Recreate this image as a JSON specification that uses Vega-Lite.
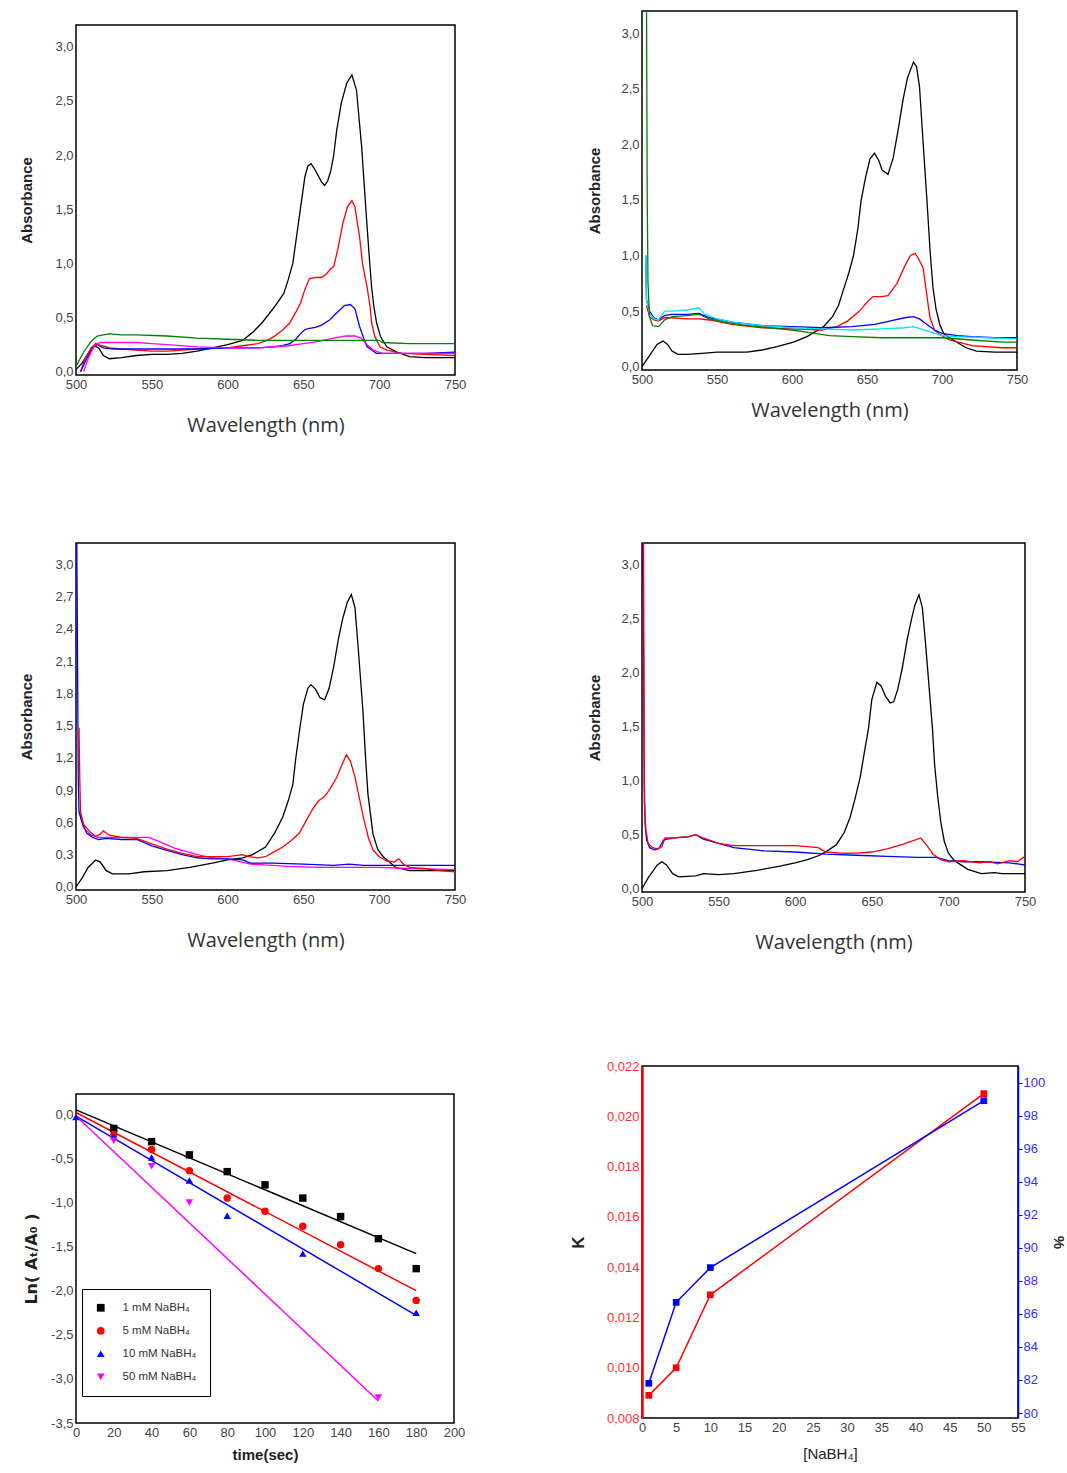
{
"$schema": "https://vega.github.io/schema/vega-lite/v6.json",
"background": "white",
"padding": {"left": 19, "top": 10, "right": 5, "bottom": 5},
"config": {
  "view": {"stroke": "black", "strokeWidth": 1.5},
  "axis": {"grid": false, "ticks": false, "domain": false, "tickCount": 40, "labelOverlap": false, "labelFlush": false, "labelFont": "Liberation Sans", "labelFontSize": 13, "labelColor": "#444", "labelPadding": 3, "titleFont": "Liberation Sans", "titleColor": "#222"},
  "text": {"font": "Liberation Sans"}
},
"datasets": {
  "a": [
{"s":"s0","w":500,"A":0.02},{"s":"s0","w":504,"A":0.08},{"s":"s0","w":508,"A":0.17},{"s":"s0","w":512,"A":0.24},{"s":"s0","w":515,"A":0.22},{"s":"s0","w":518,"A":0.15},{"s":"s0","w":522,"A":0.12},{"s":"s0","w":530,"A":0.13},{"s":"s0","w":540,"A":0.15},{"s":"s0","w":550,"A":0.16},{"s":"s0","w":560,"A":0.16},{"s":"s0","w":570,"A":0.17},{"s":"s0","w":580,"A":0.19},{"s":"s0","w":590,"A":0.22},{"s":"s0","w":600,"A":0.25},{"s":"s0","w":610,"A":0.29},{"s":"s0","w":617,"A":0.37},{"s":"s0","w":622,"A":0.44},{"s":"s0","w":626,"A":0.51},{"s":"s0","w":631,"A":0.6},{"s":"s0","w":637,"A":0.72},{"s":"s0","w":640,"A":0.85},{"s":"s0","w":643,"A":1.0},{"s":"s0","w":645.5,"A":1.25},{"s":"s0","w":648,"A":1.5},{"s":"s0","w":651,"A":1.8},{"s":"s0","w":653,"A":1.9},{"s":"s0","w":655,"A":1.92},{"s":"s0","w":657,"A":1.88},{"s":"s0","w":659,"A":1.83},{"s":"s0","w":662,"A":1.75},{"s":"s0","w":664,"A":1.72},{"s":"s0","w":666,"A":1.76},{"s":"s0","w":668,"A":1.85},{"s":"s0","w":670,"A":2.0},{"s":"s0","w":672,"A":2.23},{"s":"s0","w":675,"A":2.48},{"s":"s0","w":678.5,"A":2.66},{"s":"s0","w":682,"A":2.74},{"s":"s0","w":685,"A":2.6},{"s":"s0","w":688.4,"A":2.08},{"s":"s0","w":690,"A":1.75},{"s":"s0","w":691.7,"A":1.4},{"s":"s0","w":693.5,"A":1.05},{"s":"s0","w":695,"A":0.78},{"s":"s0","w":696.5,"A":0.6},{"s":"s0","w":698.3,"A":0.45},{"s":"s0","w":701,"A":0.32},{"s":"s0","w":705,"A":0.23},{"s":"s0","w":712,"A":0.18},{"s":"s0","w":720,"A":0.14},{"s":"s0","w":730,"A":0.13},{"s":"s0","w":750,"A":0.13},
{"s":"s1","w":503,"A":0.0},{"s":"s1","w":506,"A":0.12},{"s":"s1","w":510,"A":0.22},{"s":"s1","w":513,"A":0.26},{"s":"s1","w":517,"A":0.24},{"s":"s1","w":522,"A":0.22},{"s":"s1","w":530,"A":0.21},{"s":"s1","w":540,"A":0.2},{"s":"s1","w":550,"A":0.19},{"s":"s1","w":560,"A":0.19},{"s":"s1","w":570,"A":0.2},{"s":"s1","w":580,"A":0.21},{"s":"s1","w":590,"A":0.22},{"s":"s1","w":600,"A":0.22},{"s":"s1","w":610,"A":0.24},{"s":"s1","w":620,"A":0.26},{"s":"s1","w":626,"A":0.29},{"s":"s1","w":630,"A":0.32},{"s":"s1","w":636,"A":0.38},{"s":"s1","w":641,"A":0.45},{"s":"s1","w":645,"A":0.55},{"s":"s1","w":648,"A":0.63},{"s":"s1","w":651,"A":0.76},{"s":"s1","w":654,"A":0.86},{"s":"s1","w":658,"A":0.87},{"s":"s1","w":662,"A":0.87},{"s":"s1","w":665,"A":0.9},{"s":"s1","w":668,"A":0.95},{"s":"s1","w":670,"A":0.97},{"s":"s1","w":673,"A":1.15},{"s":"s1","w":676,"A":1.37},{"s":"s1","w":679,"A":1.52},{"s":"s1","w":682,"A":1.58},{"s":"s1","w":684,"A":1.52},{"s":"s1","w":687,"A":1.25},{"s":"s1","w":689,"A":1.0},{"s":"s1","w":692,"A":0.78},{"s":"s1","w":694,"A":0.6},{"s":"s1","w":695,"A":0.45},{"s":"s1","w":697,"A":0.33},{"s":"s1","w":700.5,"A":0.23},{"s":"s1","w":705,"A":0.2},{"s":"s1","w":715,"A":0.17},{"s":"s1","w":730,"A":0.16},{"s":"s1","w":750,"A":0.15},
{"s":"s2","w":503,"A":0.0},{"s":"s2","w":507,"A":0.12},{"s":"s2","w":511,"A":0.22},{"s":"s2","w":514,"A":0.25},{"s":"s2","w":518,"A":0.22},{"s":"s2","w":525,"A":0.21},{"s":"s2","w":540,"A":0.21},{"s":"s2","w":560,"A":0.21},{"s":"s2","w":580,"A":0.21},{"s":"s2","w":600,"A":0.22},{"s":"s2","w":620,"A":0.22},{"s":"s2","w":630,"A":0.23},{"s":"s2","w":636,"A":0.24},{"s":"s2","w":641,"A":0.26},{"s":"s2","w":645,"A":0.3},{"s":"s2","w":648,"A":0.35},{"s":"s2","w":651,"A":0.39},{"s":"s2","w":654,"A":0.4},{"s":"s2","w":658,"A":0.41},{"s":"s2","w":662,"A":0.43},{"s":"s2","w":667.5,"A":0.48},{"s":"s2","w":671,"A":0.53},{"s":"s2","w":674,"A":0.57},{"s":"s2","w":677,"A":0.61},{"s":"s2","w":681,"A":0.62},{"s":"s2","w":684,"A":0.58},{"s":"s2","w":687,"A":0.42},{"s":"s2","w":690,"A":0.3},{"s":"s2","w":692,"A":0.23},{"s":"s2","w":695,"A":0.2},{"s":"s2","w":698,"A":0.17},{"s":"s2","w":710,"A":0.17},{"s":"s2","w":730,"A":0.17},{"s":"s2","w":750,"A":0.18},
{"s":"s3","w":505,"A":0.0},{"s":"s3","w":508,"A":0.12},{"s":"s3","w":512,"A":0.24},{"s":"s3","w":516,"A":0.27},{"s":"s3","w":520,"A":0.27},{"s":"s3","w":530,"A":0.27},{"s":"s3","w":540,"A":0.27},{"s":"s3","w":550,"A":0.26},{"s":"s3","w":560,"A":0.25},{"s":"s3","w":580,"A":0.23},{"s":"s3","w":600,"A":0.22},{"s":"s3","w":620,"A":0.22},{"s":"s3","w":640,"A":0.24},{"s":"s3","w":650,"A":0.26},{"s":"s3","w":660,"A":0.28},{"s":"s3","w":670,"A":0.31},{"s":"s3","w":678,"A":0.33},{"s":"s3","w":684,"A":0.33},{"s":"s3","w":688,"A":0.31},{"s":"s3","w":692,"A":0.25},{"s":"s3","w":696,"A":0.2},{"s":"s3","w":702,"A":0.17},{"s":"s3","w":720,"A":0.17},{"s":"s3","w":750,"A":0.17},
{"s":"s4","w":500,"A":0.05},{"s":"s4","w":505,"A":0.18},{"s":"s4","w":510,"A":0.28},{"s":"s4","w":514,"A":0.33},{"s":"s4","w":518,"A":0.34},{"s":"s4","w":522,"A":0.35},{"s":"s4","w":530,"A":0.34},{"s":"s4","w":540,"A":0.34},{"s":"s4","w":560,"A":0.33},{"s":"s4","w":580,"A":0.31},{"s":"s4","w":600,"A":0.3},{"s":"s4","w":620,"A":0.29},{"s":"s4","w":640,"A":0.29},{"s":"s4","w":660,"A":0.29},{"s":"s4","w":680,"A":0.29},{"s":"s4","w":700,"A":0.29},{"s":"s4","w":702,"A":0.27},{"s":"s4","w":720,"A":0.26},{"s":"s4","w":750,"A":0.26}
  ],
  "b": [
{"s":"s0","w":500,"A":0.0},{"s":"s0","w":505,"A":0.1},{"s":"s0","w":510,"A":0.2},{"s":"s0","w":514,"A":0.23},{"s":"s0","w":517,"A":0.2},{"s":"s0","w":520,"A":0.14},{"s":"s0","w":524,"A":0.11},{"s":"s0","w":530,"A":0.11},{"s":"s0","w":540,"A":0.12},{"s":"s0","w":550,"A":0.13},{"s":"s0","w":560,"A":0.13},{"s":"s0","w":570,"A":0.13},{"s":"s0","w":580,"A":0.15},{"s":"s0","w":590,"A":0.18},{"s":"s0","w":601,"A":0.22},{"s":"s0","w":610,"A":0.27},{"s":"s0","w":621,"A":0.36},{"s":"s0","w":627,"A":0.45},{"s":"s0","w":631,"A":0.55},{"s":"s0","w":634,"A":0.68},{"s":"s0","w":638,"A":0.85},{"s":"s0","w":641,"A":1.0},{"s":"s0","w":644,"A":1.25},{"s":"s0","w":646,"A":1.49},{"s":"s0","w":649,"A":1.7},{"s":"s0","w":652,"A":1.87},{"s":"s0","w":655,"A":1.92},{"s":"s0","w":658,"A":1.85},{"s":"s0","w":660,"A":1.77},{"s":"s0","w":664,"A":1.73},{"s":"s0","w":667.5,"A":1.88},{"s":"s0","w":671,"A":2.15},{"s":"s0","w":674,"A":2.4},{"s":"s0","w":677,"A":2.6},{"s":"s0","w":681,"A":2.74},{"s":"s0","w":683,"A":2.7},{"s":"s0","w":685,"A":2.52},{"s":"s0","w":687,"A":2.1},{"s":"s0","w":690,"A":1.49},{"s":"s0","w":692,"A":1.05},{"s":"s0","w":694,"A":0.71},{"s":"s0","w":696,"A":0.52},{"s":"s0","w":698.5,"A":0.38},{"s":"s0","w":701,"A":0.3},{"s":"s0","w":705,"A":0.26},{"s":"s0","w":710,"A":0.22},{"s":"s0","w":716,"A":0.17},{"s":"s0","w":723,"A":0.14},{"s":"s0","w":735,"A":0.13},{"s":"s0","w":750,"A":0.13},
{"s":"s1","w":503,"A":0.55},{"s":"s1","w":505,"A":0.45},{"s":"s1","w":508,"A":0.42},{"s":"s1","w":511,"A":0.41},{"s":"s1","w":515,"A":0.44},{"s":"s1","w":520,"A":0.44},{"s":"s1","w":530,"A":0.43},{"s":"s1","w":538,"A":0.43},{"s":"s1","w":545,"A":0.42},{"s":"s1","w":560,"A":0.38},{"s":"s1","w":580,"A":0.35},{"s":"s1","w":600,"A":0.34},{"s":"s1","w":620,"A":0.33},{"s":"s1","w":630,"A":0.36},{"s":"s1","w":637,"A":0.41},{"s":"s1","w":645,"A":0.5},{"s":"s1","w":650,"A":0.58},{"s":"s1","w":654,"A":0.63},{"s":"s1","w":660,"A":0.63},{"s":"s1","w":664,"A":0.64},{"s":"s1","w":670,"A":0.75},{"s":"s1","w":675,"A":0.9},{"s":"s1","w":679,"A":1.0},{"s":"s1","w":682,"A":1.02},{"s":"s1","w":684,"A":0.98},{"s":"s1","w":687.4,"A":0.89},{"s":"s1","w":689.5,"A":0.68},{"s":"s1","w":692,"A":0.44},{"s":"s1","w":695,"A":0.33},{"s":"s1","w":698.5,"A":0.29},{"s":"s1","w":705,"A":0.24},{"s":"s1","w":720,"A":0.19},{"s":"s1","w":740,"A":0.17},{"s":"s1","w":750,"A":0.17},
{"s":"s2","w":502.5,"A":1.0},{"s":"s2","w":503,"A":0.6},{"s":"s2","w":505,"A":0.5},{"s":"s2","w":508,"A":0.44},{"s":"s2","w":511,"A":0.42},{"s":"s2","w":515,"A":0.46},{"s":"s2","w":520,"A":0.47},{"s":"s2","w":530,"A":0.47},{"s":"s2","w":538,"A":0.48},{"s":"s2","w":545,"A":0.44},{"s":"s2","w":560,"A":0.4},{"s":"s2","w":580,"A":0.37},{"s":"s2","w":600,"A":0.36},{"s":"s2","w":620,"A":0.35},{"s":"s2","w":640,"A":0.36},{"s":"s2","w":655,"A":0.38},{"s":"s2","w":665,"A":0.41},{"s":"s2","w":675,"A":0.44},{"s":"s2","w":681,"A":0.45},{"s":"s2","w":685,"A":0.43},{"s":"s2","w":690,"A":0.38},{"s":"s2","w":695,"A":0.33},{"s":"s2","w":700,"A":0.3},{"s":"s2","w":710,"A":0.28},{"s":"s2","w":720,"A":0.27},{"s":"s2","w":735,"A":0.26},{"s":"s2","w":750,"A":0.26},
{"s":"s5","w":502.5,"A":1.0},{"s":"s5","w":503,"A":0.6},{"s":"s5","w":505,"A":0.48},{"s":"s5","w":508,"A":0.43},{"s":"s5","w":511,"A":0.42},{"s":"s5","w":515,"A":0.5},{"s":"s5","w":520,"A":0.5},{"s":"s5","w":530,"A":0.51},{"s":"s5","w":538,"A":0.53},{"s":"s5","w":542,"A":0.47},{"s":"s5","w":550,"A":0.43},{"s":"s5","w":560,"A":0.4},{"s":"s5","w":580,"A":0.37},{"s":"s5","w":600,"A":0.35},{"s":"s5","w":620,"A":0.34},{"s":"s5","w":640,"A":0.33},{"s":"s5","w":660,"A":0.34},{"s":"s5","w":675,"A":0.35},{"s":"s5","w":681,"A":0.36},{"s":"s5","w":688,"A":0.33},{"s":"s5","w":695,"A":0.3},{"s":"s5","w":700,"A":0.28},{"s":"s5","w":710,"A":0.27},{"s":"s5","w":730,"A":0.26},{"s":"s5","w":750,"A":0.25},
{"s":"s4","w":503,"A":3.3},{"s":"s4","w":503.5,"A":1.5},{"s":"s4","w":504,"A":0.75},{"s":"s4","w":505,"A":0.45},{"s":"s4","w":507,"A":0.37},{"s":"s4","w":511,"A":0.36},{"s":"s4","w":515,"A":0.42},{"s":"s4","w":520,"A":0.45},{"s":"s4","w":530,"A":0.46},{"s":"s4","w":538,"A":0.47},{"s":"s4","w":545,"A":0.43},{"s":"s4","w":555,"A":0.4},{"s":"s4","w":570,"A":0.37},{"s":"s4","w":585,"A":0.35},{"s":"s4","w":600,"A":0.33},{"s":"s4","w":615,"A":0.3},{"s":"s4","w":625,"A":0.28},{"s":"s4","w":640,"A":0.27},{"s":"s4","w":660,"A":0.26},{"s":"s4","w":680,"A":0.26},{"s":"s4","w":700,"A":0.26},{"s":"s4","w":720,"A":0.24},{"s":"s4","w":740,"A":0.22},{"s":"s4","w":750,"A":0.22}
  ],
  "c": [
{"s":"s0","w":500,"A":0.0},{"s":"s0","w":504,"A":0.08},{"s":"s0","w":508,"A":0.18},{"s":"s0","w":513,"A":0.25},{"s":"s0","w":516,"A":0.23},{"s":"s0","w":520,"A":0.15},{"s":"s0","w":524,"A":0.12},{"s":"s0","w":535,"A":0.12},{"s":"s0","w":545,"A":0.14},{"s":"s0","w":560,"A":0.15},{"s":"s0","w":575,"A":0.18},{"s":"s0","w":590,"A":0.22},{"s":"s0","w":600,"A":0.25},{"s":"s0","w":610,"A":0.27},{"s":"s0","w":616.5,"A":0.3},{"s":"s0","w":625,"A":0.37},{"s":"s0","w":631,"A":0.5},{"s":"s0","w":636.4,"A":0.65},{"s":"s0","w":640,"A":0.8},{"s":"s0","w":643,"A":0.95},{"s":"s0","w":645,"A":1.2},{"s":"s0","w":647.4,"A":1.45},{"s":"s0","w":650,"A":1.7},{"s":"s0","w":653,"A":1.85},{"s":"s0","w":655,"A":1.88},{"s":"s0","w":658,"A":1.84},{"s":"s0","w":661,"A":1.76},{"s":"s0","w":664,"A":1.74},{"s":"s0","w":667,"A":1.85},{"s":"s0","w":670,"A":2.05},{"s":"s0","w":673,"A":2.3},{"s":"s0","w":676,"A":2.5},{"s":"s0","w":679,"A":2.65},{"s":"s0","w":681.6,"A":2.72},{"s":"s0","w":684,"A":2.6},{"s":"s0","w":686,"A":2.25},{"s":"s0","w":689.3,"A":1.63},{"s":"s0","w":691,"A":1.2},{"s":"s0","w":692.6,"A":0.86},{"s":"s0","w":695.9,"A":0.49},{"s":"s0","w":699,"A":0.35},{"s":"s0","w":702.6,"A":0.28},{"s":"s0","w":711,"A":0.18},{"s":"s0","w":720,"A":0.15},{"s":"s0","w":735,"A":0.15},{"s":"s0","w":750,"A":0.15},
{"s":"s3","w":502,"A":0.7},{"s":"s3","w":505,"A":0.55},{"s":"s3","w":510,"A":0.48},{"s":"s3","w":515,"A":0.46},{"s":"s3","w":520,"A":0.46},{"s":"s3","w":530,"A":0.46},{"s":"s3","w":540,"A":0.46},{"s":"s3","w":548,"A":0.46},{"s":"s3","w":555,"A":0.42},{"s":"s3","w":565,"A":0.36},{"s":"s3","w":580,"A":0.3},{"s":"s3","w":590,"A":0.27},{"s":"s3","w":600,"A":0.26},{"s":"s3","w":615,"A":0.21},{"s":"s3","w":630,"A":0.2},{"s":"s3","w":640,"A":0.19},{"s":"s3","w":660,"A":0.18},{"s":"s3","w":680,"A":0.18},{"s":"s3","w":700,"A":0.18},{"s":"s3","w":720,"A":0.17},{"s":"s3","w":750,"A":0.16},
{"s":"s2","w":500.5,"A":3.3},{"s":"s2","w":501.5,"A":1.0},{"s":"s2","w":502,"A":0.7},{"s":"s2","w":504,"A":0.6},{"s":"s2","w":507,"A":0.5},{"s":"s2","w":511,"A":0.46},{"s":"s2","w":515,"A":0.44},{"s":"s2","w":520,"A":0.45},{"s":"s2","w":530,"A":0.44},{"s":"s2","w":540,"A":0.44},{"s":"s2","w":550,"A":0.38},{"s":"s2","w":560,"A":0.34},{"s":"s2","w":570,"A":0.3},{"s":"s2","w":580,"A":0.27},{"s":"s2","w":590,"A":0.26},{"s":"s2","w":600,"A":0.26},{"s":"s2","w":610,"A":0.25},{"s":"s2","w":615,"A":0.22},{"s":"s2","w":630,"A":0.22},{"s":"s2","w":650,"A":0.21},{"s":"s2","w":670,"A":0.2},{"s":"s2","w":680,"A":0.21},{"s":"s2","w":690,"A":0.2},{"s":"s2","w":700,"A":0.2},{"s":"s2","w":720,"A":0.2},{"s":"s2","w":750,"A":0.2},
{"s":"s1","w":502,"A":1.48},{"s":"s1","w":502.5,"A":1.0},{"s":"s1","w":503,"A":0.7},{"s":"s1","w":505,"A":0.58},{"s":"s1","w":510,"A":0.5},{"s":"s1","w":513,"A":0.47},{"s":"s1","w":516,"A":0.49},{"s":"s1","w":518,"A":0.52},{"s":"s1","w":522,"A":0.48},{"s":"s1","w":530,"A":0.46},{"s":"s1","w":540,"A":0.45},{"s":"s1","w":550,"A":0.4},{"s":"s1","w":560,"A":0.35},{"s":"s1","w":570,"A":0.31},{"s":"s1","w":580,"A":0.28},{"s":"s1","w":590,"A":0.28},{"s":"s1","w":600,"A":0.28},{"s":"s1","w":610,"A":0.3},{"s":"s1","w":614,"A":0.28},{"s":"s1","w":620,"A":0.27},{"s":"s1","w":625,"A":0.28},{"s":"s1","w":630,"A":0.32},{"s":"s1","w":636.4,"A":0.37},{"s":"s1","w":642,"A":0.43},{"s":"s1","w":647.4,"A":0.5},{"s":"s1","w":652,"A":0.62},{"s":"s1","w":656,"A":0.72},{"s":"s1","w":660,"A":0.8},{"s":"s1","w":664,"A":0.84},{"s":"s1","w":668,"A":0.92},{"s":"s1","w":672,"A":1.02},{"s":"s1","w":675,"A":1.12},{"s":"s1","w":678.3,"A":1.23},{"s":"s1","w":681,"A":1.17},{"s":"s1","w":684,"A":1.02},{"s":"s1","w":687,"A":0.82},{"s":"s1","w":690,"A":0.62},{"s":"s1","w":693,"A":0.45},{"s":"s1","w":696,"A":0.34},{"s":"s1","w":700,"A":0.28},{"s":"s1","w":705,"A":0.24},{"s":"s1","w":710,"A":0.23},{"s":"s1","w":713,"A":0.26},{"s":"s1","w":716,"A":0.21},{"s":"s1","w":720,"A":0.18},{"s":"s1","w":730,"A":0.17},{"s":"s1","w":740,"A":0.15},{"s":"s1","w":750,"A":0.14}
  ],
  "d": [
{"s":"s0","w":500,"A":0.0},{"s":"s0","w":504,"A":0.1},{"s":"s0","w":510,"A":0.22},{"s":"s0","w":513,"A":0.25},{"s":"s0","w":516,"A":0.22},{"s":"s0","w":520,"A":0.14},{"s":"s0","w":524,"A":0.11},{"s":"s0","w":535,"A":0.12},{"s":"s0","w":540,"A":0.14},{"s":"s0","w":550,"A":0.13},{"s":"s0","w":560,"A":0.14},{"s":"s0","w":575,"A":0.17},{"s":"s0","w":590,"A":0.21},{"s":"s0","w":600,"A":0.24},{"s":"s0","w":608,"A":0.27},{"s":"s0","w":616,"A":0.31},{"s":"s0","w":622,"A":0.36},{"s":"s0","w":627,"A":0.41},{"s":"s0","w":632,"A":0.52},{"s":"s0","w":635.8,"A":0.66},{"s":"s0","w":639,"A":0.83},{"s":"s0","w":642.4,"A":1.03},{"s":"s0","w":645,"A":1.25},{"s":"s0","w":647.8,"A":1.48},{"s":"s0","w":650,"A":1.75},{"s":"s0","w":653.3,"A":1.91},{"s":"s0","w":656,"A":1.88},{"s":"s0","w":659,"A":1.78},{"s":"s0","w":662,"A":1.72},{"s":"s0","w":664.3,"A":1.73},{"s":"s0","w":667,"A":1.85},{"s":"s0","w":670,"A":2.05},{"s":"s0","w":673,"A":2.3},{"s":"s0","w":676,"A":2.5},{"s":"s0","w":678,"A":2.62},{"s":"s0","w":680.8,"A":2.72},{"s":"s0","w":683,"A":2.6},{"s":"s0","w":685.2,"A":2.25},{"s":"s0","w":687.5,"A":1.85},{"s":"s0","w":689.6,"A":1.48},{"s":"s0","w":691,"A":1.15},{"s":"s0","w":692.9,"A":0.87},{"s":"s0","w":695,"A":0.62},{"s":"s0","w":697.3,"A":0.44},{"s":"s0","w":700,"A":0.33},{"s":"s0","w":703.9,"A":0.26},{"s":"s0","w":712.7,"A":0.18},{"s":"s0","w":721.4,"A":0.14},{"s":"s0","w":730,"A":0.15},{"s":"s0","w":735,"A":0.14},{"s":"s0","w":750,"A":0.14},
{"s":"s2","w":500.5,"A":3.3},{"s":"s2","w":501,"A":2.19},{"s":"s2","w":501.5,"A":1.0},{"s":"s2","w":502,"A":0.6},{"s":"s2","w":503,"A":0.45},{"s":"s2","w":505,"A":0.38},{"s":"s2","w":508,"A":0.36},{"s":"s2","w":511,"A":0.37},{"s":"s2","w":514,"A":0.45},{"s":"s2","w":520,"A":0.47},{"s":"s2","w":530,"A":0.48},{"s":"s2","w":535,"A":0.5},{"s":"s2","w":540,"A":0.46},{"s":"s2","w":550,"A":0.42},{"s":"s2","w":560,"A":0.38},{"s":"s2","w":580,"A":0.35},{"s":"s2","w":600,"A":0.34},{"s":"s2","w":620,"A":0.32},{"s":"s2","w":640,"A":0.31},{"s":"s2","w":660,"A":0.3},{"s":"s2","w":680,"A":0.29},{"s":"s2","w":692,"A":0.29},{"s":"s2","w":700,"A":0.26},{"s":"s2","w":710,"A":0.25},{"s":"s2","w":720,"A":0.25},{"s":"s2","w":740,"A":0.24},{"s":"s2","w":750,"A":0.22},
{"s":"s1","w":501,"A":3.3},{"s":"s1","w":501.5,"A":0.8},{"s":"s1","w":502.5,"A":0.55},{"s":"s1","w":504,"A":0.42},{"s":"s1","w":507,"A":0.38},{"s":"s1","w":510,"A":0.37},{"s":"s1","w":513,"A":0.39},{"s":"s1","w":515,"A":0.47},{"s":"s1","w":520,"A":0.47},{"s":"s1","w":530,"A":0.48},{"s":"s1","w":535,"A":0.5},{"s":"s1","w":540,"A":0.47},{"s":"s1","w":550,"A":0.42},{"s":"s1","w":560,"A":0.4},{"s":"s1","w":580,"A":0.4},{"s":"s1","w":600,"A":0.4},{"s":"s1","w":615,"A":0.38},{"s":"s1","w":620,"A":0.34},{"s":"s1","w":630,"A":0.33},{"s":"s1","w":640,"A":0.33},{"s":"s1","w":650,"A":0.34},{"s":"s1","w":660,"A":0.37},{"s":"s1","w":670,"A":0.41},{"s":"s1","w":678,"A":0.45},{"s":"s1","w":682,"A":0.47},{"s":"s1","w":686,"A":0.4},{"s":"s1","w":690,"A":0.32},{"s":"s1","w":695,"A":0.27},{"s":"s1","w":700,"A":0.25},{"s":"s1","w":710,"A":0.26},{"s":"s1","w":720,"A":0.24},{"s":"s1","w":727,"A":0.25},{"s":"s1","w":732,"A":0.23},{"s":"s1","w":740,"A":0.26},{"s":"s1","w":745,"A":0.25},{"s":"s1","w":750,"A":0.3}
  ],
  "epts": [
{"series":"1 mM NaBH₄","t":20,"v":-0.16},{"series":"1 mM NaBH₄","t":40,"v":-0.31},{"series":"1 mM NaBH₄","t":60,"v":-0.46},{"series":"1 mM NaBH₄","t":80,"v":-0.65},{"series":"1 mM NaBH₄","t":100,"v":-0.8},{"series":"1 mM NaBH₄","t":120,"v":-0.95},{"series":"1 mM NaBH₄","t":140,"v":-1.16},{"series":"1 mM NaBH₄","t":160,"v":-1.41},{"series":"1 mM NaBH₄","t":180,"v":-1.75},
{"series":"5 mM NaBH₄","t":20,"v":-0.23},{"series":"5 mM NaBH₄","t":40,"v":-0.4},{"series":"5 mM NaBH₄","t":60,"v":-0.64},{"series":"5 mM NaBH₄","t":80,"v":-0.95},{"series":"5 mM NaBH₄","t":100,"v":-1.1},{"series":"5 mM NaBH₄","t":120,"v":-1.27},{"series":"5 mM NaBH₄","t":140,"v":-1.48},{"series":"5 mM NaBH₄","t":160,"v":-1.75},{"series":"5 mM NaBH₄","t":180,"v":-2.11},
{"series":"10 mM NaBH₄","t":0,"v":-0.03},{"series":"10 mM NaBH₄","t":20,"v":-0.25},{"series":"10 mM NaBH₄","t":40,"v":-0.49},{"series":"10 mM NaBH₄","t":60,"v":-0.75},{"series":"10 mM NaBH₄","t":80,"v":-1.15},{"series":"10 mM NaBH₄","t":120,"v":-1.58},{"series":"10 mM NaBH₄","t":180,"v":-2.25},
{"series":"50 mM NaBH₄","t":20,"v":-0.3},{"series":"50 mM NaBH₄","t":40,"v":-0.59},{"series":"50 mM NaBH₄","t":60,"v":-1.0},{"series":"50 mM NaBH₄","t":160,"v":-3.21}
  ],
  "efit": [
{"series":"1 mM NaBH₄","t":0,"v":0.05},{"series":"1 mM NaBH₄","t":180,"v":-1.58},
{"series":"5 mM NaBH₄","t":0,"v":0.02},{"series":"5 mM NaBH₄","t":180,"v":-2.0},
{"series":"10 mM NaBH₄","t":0,"v":-0.02},{"series":"10 mM NaBH₄","t":180,"v":-2.28},
{"series":"50 mM NaBH₄","t":0,"v":-0.02},{"series":"50 mM NaBH₄","t":160,"v":-3.25}
  ],
  "f": [
{"c":1,"K":0.0089,"P":81.8},{"c":5,"K":0.0100,"P":86.7},{"c":10,"K":0.0129,"P":88.8},{"c":50,"K":0.0209,"P":98.9}
  ]
},
"hconcat": [
 {"vconcat": [
   {"width": 10, "height": 13, "view": {"stroke": null}, "data": {"values": []}, "mark": "point", "encoding": {}},
   {"vconcat": [
     {"vconcat": [
       {"width": 379, "height": 350,
        "layer": [
          {"data": {"name": "a"}, "mark": {"type": "line", "clip": true, "strokeWidth": 1.3},
           "encoding": {
             "x": {"field": "w", "type": "quantitative", "scale": {"domain": [500, 750], "nice": false, "zero": false}, "axis": {"values": [500,550,600,650,700,750], "tickCount": 40, "labelOverlap": false, "format": "d", "title": "Wavelength (nm)", "titleFont": "Open Sans", "titleFontSize": 20, "titleFontWeight": "normal", "titlePadding": 24, "titleColor": "#333"}},
             "y": {"field": "A", "type": "quantitative", "scale": {"domain": [-0.03, 3.2], "nice": false, "zero": false}, "axis": {"values": [0,0.5,1,1.5,2,2.5,3], "tickCount": 40, "labelOverlap": false, "labelExpr": "replace(format(datum.value, '.1f'), '.', ',')", "title": "Absorbance", "titleFontSize": 15, "titleFontWeight": "bold", "titlePadding": 20}},
             "stroke": {"field": "s", "type": "nominal", "scale": {"domain": ["s0","s1","s2","s3","s4","s5"], "range": ["black","red","blue","magenta","green","#00e5ff"]}, "legend": null}
           }},
          {"mark": {"type": "text", "fontSize": 15, "fontWeight": "bold"}, "encoding": {"x": {"datum": 526}, "y": {"datum": 3.03}, "text": {"value": "a"}}},
          {"mark": {"type": "text", "fontSize": 11}, "encoding": {"x": {"datum": 715}, "y": {"datum": 2.93}, "text": {"value": "0 min"}}},
          {"mark": {"type": "rule", "strokeWidth": 1.5}, "encoding": {"x": {"datum": 715}, "y": {"datum": 2.83}, "y2": {"datum": 0.9}}},
          {"mark": {"type": "point", "shape": "triangle-down", "filled": true, "size": 30, "color": "black", "opacity": 1}, "encoding": {"x": {"datum": 715}, "y": {"datum": 0.92}}},
          {"mark": {"type": "text", "fontSize": 11}, "encoding": {"x": {"datum": 720}, "y": {"datum": 0.8}, "text": {"value": "12 min"}}}
        ]},
       {"width": 379, "height": 347,
        "layer": [
          {"data": {"name": "c"}, "mark": {"type": "line", "clip": true, "strokeWidth": 1.3},
           "encoding": {
             "x": {"field": "w", "type": "quantitative", "scale": {"domain": [500, 750], "nice": false, "zero": false}, "axis": {"values": [500,550,600,650,700,750], "tickCount": 40, "labelOverlap": false, "format": "d", "title": "Wavelength (nm)", "titleFont": "Open Sans", "titleFontSize": 20, "titleFontWeight": "normal", "titlePadding": 24, "titleColor": "#333"}},
             "y": {"field": "A", "type": "quantitative", "scale": {"domain": [-0.03, 3.2], "nice": false, "zero": false}, "axis": {"values": [0,0.3,0.6,0.9,1.2,1.5,1.8,2.1,2.4,2.7,3.0], "tickCount": 40, "labelOverlap": false, "labelExpr": "replace(format(datum.value, '.1f'), '.', ',')", "title": "Absorbance", "titleFontSize": 15, "titleFontWeight": "bold", "titlePadding": 20}},
             "stroke": {"field": "s", "type": "nominal", "scale": {"domain": ["s0","s1","s2","s3","s4","s5"], "range": ["black","red","blue","magenta","green","#00e5ff"]}, "legend": null}
           }},
          {"mark": {"type": "text", "fontSize": 15, "fontWeight": "bold"}, "encoding": {"x": {"datum": 528}, "y": {"datum": 3.02}, "text": {"value": "c"}}},
          {"mark": {"type": "text", "fontSize": 11}, "encoding": {"x": {"datum": 716}, "y": {"datum": 2.74}, "text": {"value": "0 min"}}},
          {"mark": {"type": "rule", "strokeWidth": 1.5}, "encoding": {"x": {"datum": 716}, "y": {"datum": 2.62}, "y2": {"datum": 0.78}}},
          {"mark": {"type": "point", "shape": "triangle-down", "filled": true, "size": 30, "color": "black", "opacity": 1}, "encoding": {"x": {"datum": 716}, "y": {"datum": 0.8}}},
          {"mark": {"type": "text", "fontSize": 11}, "encoding": {"x": {"datum": 718}, "y": {"datum": 0.66}, "text": {"value": "6 min"}}}
        ]}
     ], "spacing": 106},
     {"width": 378, "height": 329,
      "layer": [
        {"data": {"name": "efit"}, "transform": [{"filter": "datum.series == '1 mM NaBH₄'"}], "mark": {"type": "line", "strokeWidth": 1.5, "color": "black"},
         "encoding": {
           "x": {"field": "t", "type": "quantitative", "scale": {"domain": [0, 200], "nice": false}, "axis": {"values": [0,20,40,60,80,100,120,140,160,180,200], "tickCount": 40, "labelOverlap": false, "format": "d", "title": "time(sec)", "titleFontSize": 15, "titleFontWeight": "bold", "titlePadding": 8}},
           "y": {"field": "v", "type": "quantitative", "scale": {"domain": [-3.5, 0.23], "nice": false, "zero": false}, "axis": {"values": [-3.5,-3,-2.5,-2,-1.5,-1,-0.5,0], "tickCount": 40, "labelOverlap": false, "labelExpr": "replace(replace(format(datum.value, '.1f'), '.', ','), '−', '-')", "title": "Ln( Aₜ/A₀ )", "titleFont": "DejaVu Sans", "titleFontSize": 16, "titleFontWeight": "bold", "titlePadding": 11}}
         }},
        {"data": {"name": "efit"}, "transform": [{"filter": "datum.series == '5 mM NaBH₄'"}], "mark": {"type": "line", "strokeWidth": 1.5, "color": "red"},
         "encoding": {"x": {"field": "t", "type": "quantitative"}, "y": {"field": "v", "type": "quantitative"}}},
        {"data": {"name": "efit"}, "transform": [{"filter": "datum.series == '10 mM NaBH₄'"}], "mark": {"type": "line", "strokeWidth": 1.5, "color": "blue"},
         "encoding": {"x": {"field": "t", "type": "quantitative"}, "y": {"field": "v", "type": "quantitative"}}},
        {"data": {"name": "efit"}, "transform": [{"filter": "datum.series == '50 mM NaBH₄'"}], "mark": {"type": "line", "strokeWidth": 1.5, "color": "magenta"},
         "encoding": {"x": {"field": "t", "type": "quantitative"}, "y": {"field": "v", "type": "quantitative"}}},
        {"data": {"name": "epts"}, "mark": {"type": "point", "filled": true, "size": 55, "opacity": 1},
         "encoding": {
           "x": {"field": "t", "type": "quantitative"},
           "y": {"field": "v", "type": "quantitative"},
           "color": {"field": "series", "type": "nominal", "scale": {"domain": ["1 mM NaBH₄","5 mM NaBH₄","10 mM NaBH₄","50 mM NaBH₄"], "range": ["black","red","blue","magenta"]}, "legend": {"title": null, "orient": "none", "legendX": 6, "legendY": 195, "strokeColor": "black", "fillColor": "white", "padding": 13, "rowPadding": 10, "symbolSize": 60, "labelFontSize": 11.5, "labelColor": "#333", "labelFont": "Liberation Sans", "labelOffset": 16}},
           "shape": {"field": "series", "type": "nominal", "scale": {"domain": ["1 mM NaBH₄","5 mM NaBH₄","10 mM NaBH₄","50 mM NaBH₄"], "range": ["square","circle","triangle-up","triangle-down"]}, "legend": {"title": null, "orient": "none", "legendX": 6, "legendY": 195}}
         }},
        {"mark": {"type": "text", "fontSize": 15, "fontWeight": "bold"}, "encoding": {"x": {"datum": 183}, "y": {"datum": 0.03}, "text": {"value": "e"}}}
      ]}
   ], "spacing": 142, "resolve": {"scale": {"color": "independent", "shape": "independent"}, "legend": {"color": "independent", "shape": "independent"}}}
 ], "spacing": 0, "resolve": {"scale": {"color": "independent", "shape": "independent"}, "legend": {"color": "independent", "shape": "independent"}}},
 {"vconcat": [
   {"vconcat": [
     {"width": 375, "height": 359,
      "layer": [
        {"data": {"name": "b"}, "mark": {"type": "line", "clip": true, "strokeWidth": 1.3},
         "encoding": {
           "x": {"field": "w", "type": "quantitative", "scale": {"domain": [500, 750], "nice": false, "zero": false}, "axis": {"values": [500,550,600,650,700,750], "tickCount": 40, "labelOverlap": false, "format": "d", "title": "Wavelength (nm)", "titleFont": "Open Sans", "titleFontSize": 20, "titleFontWeight": "normal", "titlePadding": 14, "titleColor": "#333"}},
           "y": {"field": "A", "type": "quantitative", "scale": {"domain": [-0.03, 3.2], "nice": false, "zero": false}, "axis": {"values": [0,0.5,1,1.5,2,2.5,3], "tickCount": 40, "labelOverlap": false, "labelExpr": "replace(format(datum.value, '.1f'), '.', ',')", "title": "Absorbance", "titleFontSize": 15, "titleFontWeight": "bold", "titlePadding": 18}},
           "stroke": {"field": "s", "type": "nominal", "scale": {"domain": ["s0","s1","s2","s3","s4","s5"], "range": ["black","red","blue","magenta","green","#00e5ff"]}, "legend": null}
         }},
        {"mark": {"type": "text", "fontSize": 15, "fontWeight": "bold"}, "encoding": {"x": {"datum": 529}, "y": {"datum": 3.04}, "text": {"value": "b"}}},
        {"mark": {"type": "text", "fontSize": 11}, "encoding": {"x": {"datum": 716}, "y": {"datum": 2.88}, "text": {"value": "0 min"}}},
        {"mark": {"type": "rule", "strokeWidth": 1.5}, "encoding": {"x": {"datum": 716}, "y": {"datum": 2.67}, "y2": {"datum": 0.95}}},
        {"mark": {"type": "point", "shape": "triangle-down", "filled": true, "size": 30, "color": "black", "opacity": 1}, "encoding": {"x": {"datum": 716}, "y": {"datum": 0.97}}},
        {"mark": {"type": "text", "fontSize": 11}, "encoding": {"x": {"datum": 716}, "y": {"datum": 0.84}, "text": {"value": "8 min"}}}
      ]},
     {"width": 383, "height": 349,
      "layer": [
        {"data": {"name": "d"}, "mark": {"type": "line", "clip": true, "strokeWidth": 1.3},
         "encoding": {
           "x": {"field": "w", "type": "quantitative", "scale": {"domain": [500, 750], "nice": false, "zero": false}, "axis": {"values": [500,550,600,650,700,750], "tickCount": 40, "labelOverlap": false, "format": "d", "title": "Wavelength (nm)", "titleFont": "Open Sans", "titleFontSize": 20, "titleFontWeight": "normal", "titlePadding": 24, "titleColor": "#333"}},
           "y": {"field": "A", "type": "quantitative", "scale": {"domain": [-0.03, 3.2], "nice": false, "zero": false}, "axis": {"values": [0,0.5,1,1.5,2,2.5,3], "tickCount": 40, "labelOverlap": false, "labelExpr": "replace(format(datum.value, '.1f'), '.', ',')", "title": "Absorbance", "titleFontSize": 15, "titleFontWeight": "bold", "titlePadding": 18}},
           "stroke": {"field": "s", "type": "nominal", "scale": {"domain": ["s0","s1","s2","s3","s4","s5"], "range": ["black","red","blue","magenta","green","#00e5ff"]}, "legend": null}
         }},
        {"mark": {"type": "text", "fontSize": 15, "fontWeight": "bold"}, "encoding": {"x": {"datum": 530}, "y": {"datum": 3.07}, "text": {"value": "d"}}},
        {"mark": {"type": "text", "fontSize": 11}, "encoding": {"x": {"datum": 717}, "y": {"datum": 2.8}, "text": {"value": "0 min"}}},
        {"mark": {"type": "rule", "strokeWidth": 1.5}, "encoding": {"x": {"datum": 717}, "y": {"datum": 2.69}, "y2": {"datum": 0.81}}},
        {"mark": {"type": "point", "shape": "triangle-down", "filled": true, "size": 30, "color": "black", "opacity": 1}, "encoding": {"x": {"datum": 717}, "y": {"datum": 0.83}}},
        {"mark": {"type": "text", "fontSize": 11}, "encoding": {"x": {"datum": 720}, "y": {"datum": 0.64}, "text": {"value": "1 min"}}}
      ]}
   ], "spacing": 121},
   {"width": 376, "height": 352,
    "layer": [
      {"layer": [
        {"data": {"name": "f"}, "mark": {"type": "line", "color": "red", "strokeWidth": 1.5, "point": {"shape": "square", "filled": true, "size": 45, "color": "red"}},
         "encoding": {
           "x": {"field": "c", "type": "quantitative", "scale": {"domain": [0, 55], "nice": false}, "axis": {"values": [0,5,10,15,20,25,30,35,40,45,50,55], "tickCount": 40, "labelOverlap": false, "format": "d", "title": "[NaBH₄]", "titleFontSize": 15, "titleFontWeight": "normal", "titlePadding": 12}},
           "y": {"field": "K", "type": "quantitative", "scale": {"domain": [0.008, 0.022], "nice": false, "zero": false}, "axis": {"orient": "left", "values": [0.008,0.01,0.012,0.014,0.016,0.018,0.02,0.022], "tickCount": 40, "labelOverlap": false, "labelExpr": "replace(format(datum.value, '.3f'), '.', ',')", "labelColor": "#ff3030", "domain": true, "domainColor": "red", "domainWidth": 2.5, "title": "K", "titleFontSize": 17, "titleFontWeight": "bold", "titlePadding": 19}}
         }},
        {"mark": {"type": "text", "fontSize": 15, "fontWeight": "bold"}, "encoding": {"x": {"datum": 6.4}, "y": {"datum": 0.0208}, "text": {"value": "f"}}}
      ]},
      {"data": {"name": "f"}, "mark": {"type": "line", "color": "blue", "strokeWidth": 1.5, "point": {"shape": "square", "filled": true, "size": 45, "color": "blue"}},
       "encoding": {
         "x": {"field": "c", "type": "quantitative"},
         "y": {"field": "P", "type": "quantitative", "scale": {"domain": [79.7, 101], "nice": false, "zero": false}, "axis": {"orient": "right", "values": [80,82,84,86,88,90,92,94,96,98,100], "tickCount": 40, "labelOverlap": false, "format": "d", "labelColor": "#3030ff", "domain": true, "domainColor": "blue", "domainWidth": 1.5, "ticks": true, "tickColor": "blue", "tickSize": 4, "labelPadding": 1, "title": "%", "titleFontSize": 15, "titleFontWeight": "bold", "titlePadding": 6}}
       }}
    ],
    "resolve": {"scale": {"y": "independent"}}}
 ], "spacing": 106}
],
"spacing": 101,
"resolve": {"scale": {"color": "independent", "shape": "independent"}, "legend": {"color": "independent", "shape": "independent"}}
}
